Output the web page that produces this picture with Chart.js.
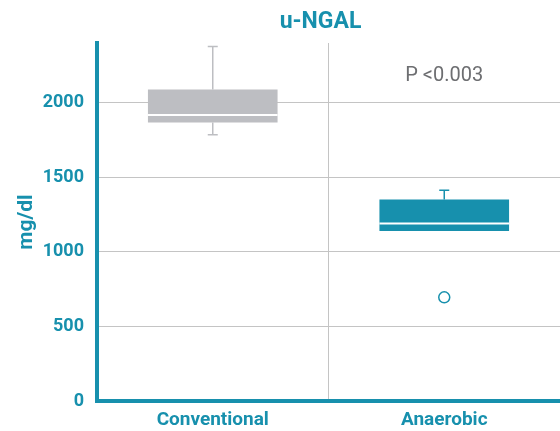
<!DOCTYPE html>
<html>
<head>
<meta charset="utf-8">
<script src="https://cdn.jsdelivr.net/npm/chart.js@4"></script>
<style>
  html, body { margin: 0; padding: 0; background: #fff; overflow: hidden; }
  canvas { display: block; }
</style>
</head>
<body>
<canvas id="boxChart" width="560" height="431"></canvas>
<script>
// u-NGAL box plot
const categories = ['Conventional', 'Anaerobic'];
const whiskerMin = [1785, 1140];
const q1 = [1867, 1140];
const median = [1917, 1190];
const q3 = [2088, 1351];
const whiskerMax = [2377, 1414];
const outliers = [null, 696];
const yTicks = [0, 500, 1000, 1500, 2000];

const TEAL = '#1790ad';
const GREY_BOX = '#bdbec2';
const NARROW = "'Liberation Sans Narrow', 'Roboto', sans-serif";
const ROBOTO = "'Roboto', 'Liberation Sans', sans-serif";

const boxPlugin = {
    id: 'boxExtras',
    afterDatasetsDraw(chart) {
        const ctx = chart.ctx;
        const x = chart.scales.x, y = chart.scales.y;
        const bars = chart.getDatasetMeta(0).data;
        const colors = [GREY_BOX, TEAL];
        ctx.save();
        categories.forEach((c, i) => {
            const px = x.getPixelForValue(i);
            ctx.strokeStyle = colors[i];
            ctx.lineWidth = 1.5;
            ctx.beginPath();
            // upper whisker
            ctx.moveTo(px, y.getPixelForValue(q3[i]));
            ctx.lineTo(px, y.getPixelForValue(whiskerMax[i]));
            ctx.moveTo(px - 5, y.getPixelForValue(whiskerMax[i]));
            ctx.lineTo(px + 5, y.getPixelForValue(whiskerMax[i]));
            // lower whisker
            if (whiskerMin[i] < q1[i]) {
                ctx.moveTo(px, y.getPixelForValue(q1[i]));
                ctx.lineTo(px, y.getPixelForValue(whiskerMin[i]));
                ctx.moveTo(px - 5, y.getPixelForValue(whiskerMin[i]));
                ctx.lineTo(px + 5, y.getPixelForValue(whiskerMin[i]));
            }
            ctx.stroke();
            // median
            const w = bars[i].width;
            ctx.strokeStyle = '#ffffff';
            ctx.lineWidth = 2;
            ctx.beginPath();
            ctx.moveTo(px - w / 2, y.getPixelForValue(median[i]));
            ctx.lineTo(px + w / 2, y.getPixelForValue(median[i]));
            ctx.stroke();
        });
        // p value
        ctx.fillStyle = '#6d6e71';
        ctx.font = "20px " + ROBOTO;
        ctx.textAlign = 'center';
        ctx.textBaseline = 'middle';
        ctx.fillText('P <0.003', x.getPixelForValue(1), 76);
        // title
        ctx.fillStyle = TEAL;
        ctx.font = "bold 23px " + ROBOTO;
        ctx.fillText('u-NGAL', (chart.chartArea.left + chart.chartArea.right) / 2 - 8, 22);
        ctx.restore();
    }
};

new Chart(document.getElementById('boxChart'), {
    data: {
        labels: categories,
        datasets: [{
            type: 'bar',
            data: categories.map((c, i) => [q1[i], q3[i]]),
            backgroundColor: [GREY_BOX, TEAL],
            borderWidth: 0,
            barPercentage: 0.56,
            categoryPercentage: 1,
            order: 2
        }, {
            type: 'line',
            data: outliers,
            showLine: false,
            pointRadius: 5.5,
            pointBackgroundColor: '#ffffff',
            pointBorderColor: TEAL,
            pointBorderWidth: 1.5,
            order: 1
        }]
    },
    plugins: [boxPlugin],
    options: {
        responsive: false,
        animation: false,
        layout: { autoPadding: false, padding: { top: 43, right: 0, left: 0, bottom: -9 } },
        plugins: {
            legend: { display: false },
            tooltip: { enabled: false }
        },
        scales: {
            x: {
                grid: { offset: true, color: '#c4c4c4', lineWidth: 1, drawTicks: false },
                border: { color: TEAL, width: 4 },
                ticks: {
                    color: TEAL,
                    padding: 8,
                    font: { family: ROBOTO, size: 19, weight: 'bold' }
                }
            },
            y: {
                min: 0,
                max: 2400,
                afterBuildTicks: (scale) => {
                    scale.ticks = yTicks.map(v => ({ value: v })).concat([{ value: 2400 }]);
                },
                grid: { color: '#c4c4c4', lineWidth: 1, drawTicks: false },
                border: { color: TEAL, width: 4 },
                title: {
                    display: true,
                    text: 'mg/dl',
                    color: TEAL,
                    padding: { top: 14, bottom: 0 },
                    font: { family: ROBOTO, size: 21, weight: 'bold' }
                },
                ticks: {
                    color: TEAL,
                    padding: 13,
                    callback: (v) => yTicks.includes(v) ? v : null,
                    font: { family: NARROW, size: 18, weight: 'bold' }
                },
                afterFit: (scale) => { scale.width = 97; }
            }
        }
    }
});
</script>
</body>
</html>
